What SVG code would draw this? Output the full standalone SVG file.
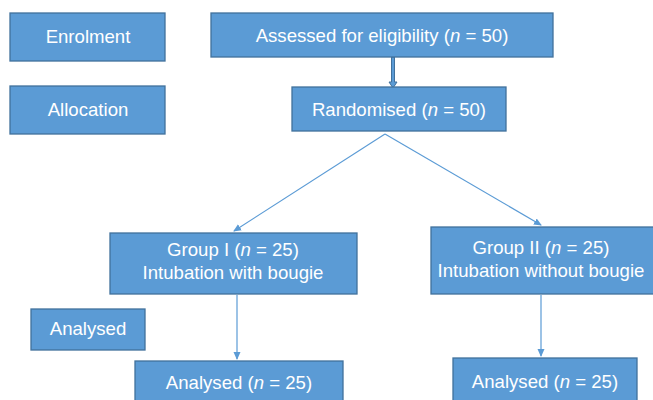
<svg xmlns="http://www.w3.org/2000/svg" width="653" height="400" viewBox="0 0 653 400">
<defs>
<style>
.box{fill:#5b9bd5;stroke:#41719c;stroke-width:1.3}
.t{font-family:"Liberation Sans",Arial,sans-serif;font-size:18.6px;fill:#ffffff;text-anchor:middle}
.c{stroke:#5b9bd5;stroke-width:1.2;fill:none}
</style>
<marker id="ah" markerWidth="8" markerHeight="8" refX="7" refY="4" orient="auto" markerUnits="userSpaceOnUse">
<path d="M0,0.5 L8,4 L0,7.5 Z" fill="#5b9bd5"/>
</marker>
</defs>
<rect width="653" height="400" fill="#ffffff"/>
<g id="connectors">
<path d="M391.5,57 V82 H389 L393,88 L397,82 H394.5 V57 Z" fill="#5b9bd5" stroke="#41719c" stroke-width="1"/>
<line class="c" x1="385" y1="134" x2="234" y2="231" marker-end="url(#ah)"/>
<line class="c" x1="385" y1="134" x2="541" y2="225" marker-end="url(#ah)"/>
<line class="c" x1="237" y1="295" x2="237" y2="359" marker-end="url(#ah)"/>
<line class="c" x1="541" y1="295" x2="541" y2="356" marker-end="url(#ah)"/>
</g>
<g id="enrolment"><rect class="box" x="10" y="13" width="155" height="48"/><text class="t" x="88" y="43">Enrolment</text></g>
<g id="assessed"><rect class="box" x="211" y="13" width="342" height="44"/><text class="t" x="382" y="41.5">Assessed for eligibility (<tspan font-style="italic">n</tspan> = 50)</text></g>
<g id="allocation"><rect class="box" x="10" y="86" width="155" height="48"/><text class="t" x="88" y="115.5">Allocation</text></g>
<g id="randomised"><rect class="box" x="292" y="87" width="214" height="44"/><text class="t" x="399" y="115.5">Randomised (<tspan font-style="italic">n</tspan> = 50)</text></g>
<g id="group1"><rect class="box" x="110" y="233" width="247" height="61"/><text class="t" x="233" y="256">Group I (<tspan font-style="italic">n</tspan> = 25)</text><text class="t" x="233" y="279">Intubation with bougie</text></g>
<g id="group2"><rect class="box" x="431" y="227" width="224" height="67"/><text class="t" x="541" y="254">Group II (<tspan font-style="italic">n</tspan> = 25)</text><text class="t" x="541" y="277">Intubation without bougie</text></g>
<g id="analysed-label"><rect class="box" x="31" y="309" width="114" height="41"/><text class="t" x="88" y="335">Analysed</text></g>
<g id="analysed1"><rect class="box" x="135" y="361" width="208" height="45"/><text class="t" x="239" y="388.5">Analysed (<tspan font-style="italic">n</tspan> = 25)</text></g>
<g id="analysed2"><rect class="box" x="453" y="358" width="184" height="48"/><text class="t" x="545" y="387.5">Analysed (<tspan font-style="italic">n</tspan> = 25)</text></g>
</svg>
